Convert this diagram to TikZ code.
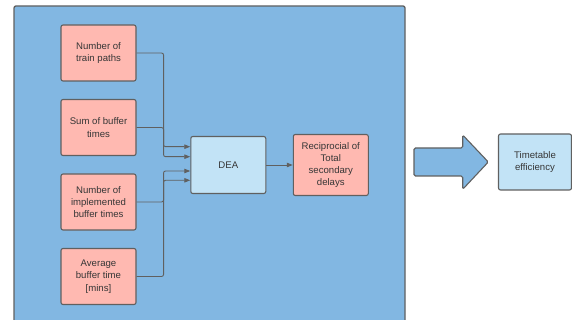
\documentclass[tikz,border=0pt]{standalone}
\usepackage{fontspec}
\setmainfont{Liberation Sans}
\usetikzlibrary{arrows.meta}

\definecolor{panelblue}{HTML}{82B7E2}
\definecolor{inpink}{HTML}{FFB9B1}
\definecolor{outblue}{HTML}{C2E3F6}
\definecolor{edgegray}{HTML}{606060}
\definecolor{textgray}{HTML}{363636}

\begin{document}
\begin{tikzpicture}[x=1pt, y=-1pt,
    box/.style={rectangle, draw=edgegray, line width=1.1pt, rounded corners=2pt,
        minimum width=75pt, minimum height=56pt, align=center, text=textgray,
        inner sep=1pt, font=\fontsize{9.6}{12.3}\selectfont},
    conn/.style={draw=edgegray, line width=0.9pt, rounded corners=2pt,
        -{Triangle[length=6pt,width=4.5pt]}}]

    \useasboundingbox (0,0) rectangle (572,320);
    \clip (0,0) rectangle (572,320);

    % DEA panel
    \draw[fill=panelblue, draw=edgegray, line width=1.3pt, rounded corners=2pt]
        (14,6) rectangle (405,340);

    % Inputs
    \node[box, fill=inpink] (paths) at (98.5,53) {Number of\\train paths};
    \node[box, fill=inpink] (bsum) at (98.5,127.5) {Sum of buffer\\times};
    \node[box, fill=inpink] (bimpl) at (98.5,202) {Number of\\implemented\\buffer times};
    \node[box, fill=inpink] (bavg) at (98.5,276.5) {Average\\buffer time\\{[mins]}};

    % Model and output
    \node[box, fill=outblue, minimum height=57pt] (dea) at (228.3,165) {DEA};
    \node[box, fill=inpink, minimum height=61pt] (recip) at (330.8,165)
        {Reciprocial of\\Total\\secondary\\delays};

    % Result
    \node[box, fill=outblue, minimum width=73pt] (eff) at (535,162)
        {Timetable\\efficiency};

    \draw[conn] (paths.east) -- ++(27,0) |- ([yshift=8.3pt]dea.west);
    \draw[conn] (bsum.east) -- ++(27,0) |- ([yshift=18.3pt]dea.west);
    \draw[conn] (bimpl.east) -- ++(27,0) |- ([yshift=-6pt]dea.west);
    \draw[conn] (bavg.east) -- ++(27,0) |- ([yshift=-15.3pt]dea.west);
    \draw[conn] (dea) -- (recip);

    % Block arrow
    \draw[fill=panelblue, draw=edgegray, line width=1.1pt, rounded corners=1.5pt]
        (414,148) -- (462.7,148) -- (462.7,135) -- (488.3,162)
        -- (462.7,189.3) -- (462.7,176) -- (414,176) -- cycle;
\end{tikzpicture}
\end{document}
